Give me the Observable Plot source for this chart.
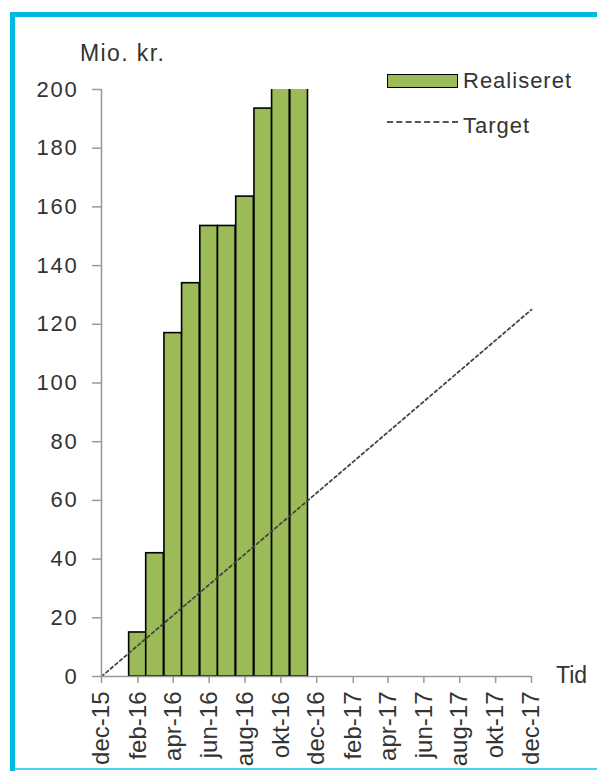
<!DOCTYPE html>
<html>
<head>
<meta charset="utf-8">
<script src="https://cdn.jsdelivr.net/npm/d3@7"></script>
<script src="https://cdn.jsdelivr.net/npm/@observablehq/plot@0.6"></script>
<style>
  html, body { margin: 0; padding: 0; background: #fff; }
  #wrap { position: relative; width: 597px; height: 771px; overflow: hidden; font-family: "Liberation Sans", Arial, sans-serif; color: #333; }
  #chart { position: absolute; left: 0; top: 0; }
  .b { position: absolute; background: #00B9DE; }
  .lbl { position: absolute; white-space: nowrap; line-height: 1; }
</style>
</head>
<body>
<div id="wrap">
  <div id="chart"></div>
  <div class="b" style="left:10px; top:12px; width:5px; height:759px;"></div>
  <div class="b" style="left:10px; top:12px; width:587px; height:5px;"></div>
  <div class="b" style="left:15px; top:768px; width:582px; height:2px; background:#4CD3F0;"></div>
</div>
<script>
// ---- data ----
const barMonths = ["2016-02-01","2016-03-01","2016-04-01","2016-05-01","2016-06-01","2016-07-01","2016-08-01","2016-09-01","2016-10-01","2016-11-01"];
const realiseret = [15, 42, 117, 134, 153.5, 153.5, 163.5, 193.5, 215, 225];
const targetDates = ["2015-12-01","2017-12-01"];
const targetValues = [0, 125];
const xTickDates = ["2015-12-01","2016-02-01","2016-04-01","2016-06-01","2016-08-01","2016-10-01","2016-12-01","2017-02-01","2017-04-01","2017-06-01","2017-08-01","2017-10-01","2017-12-01"];
const monthNames = ["jan","feb","mar","apr","maj","jun","jul","aug","sep","okt","nov","dec"];
const yTicks = [0,20,40,60,80,100,120,140,160,180,200];
const seriesNames = ["Realiseret","Target"];
const yUnit = "Mio. kr.";
const xUnit = "Tid";

const bars = barMonths.map((m, i) => {
  const d = new Date(m);
  return {x1: d3.utcDay.offset(d, -15), x2: d3.utcDay.offset(d, 15), y: realiseret[i]};
});
const target = targetDates.map((t, i) => ({x: new Date(t), y: targetValues[i]}));
const xTicks = xTickDates.map(t => new Date(t));
const fmt = d => monthNames[d.getUTCMonth()] + "-" + String(d.getUTCFullYear()).slice(2);

const font = '"Liberation Sans", Arial, sans-serif';

const chart = Plot.plot({
  width: 597,
  height: 771,
  marginTop: 89,
  marginBottom: 95,
  marginLeft: 101,
  marginRight: 66,
  style: {fontFamily: font, fontSize: "24px", color: "#333", background: "transparent"},
  x: {type: "utc", domain: [new Date(targetDates[0]), new Date(targetDates[1])]},
  y: {domain: [0, 200]},
  marks: [
    Plot.rectY(bars, {x1: "x1", x2: "x2", y: "y", fill: "#9BBB59", stroke: "#000", strokeWidth: 1.6, clip: true}),
    Plot.line(target, {x: "x", y: "y", stroke: "#444", strokeWidth: 1.8, strokeDasharray: "3,3"}),
    Plot.ruleX([new Date(targetDates[0])], {y1: 0, y2: 200, stroke: "#999", strokeWidth: 1.5}),
    Plot.ruleY([0], {stroke: "#999", strokeWidth: 1.5}),
    Plot.axisY({ticks: yTicks, tickSize: 9, tickPadding: 14, stroke: "#999", strokeWidth: 1.5, fill: "#333", fontSize: 22, label: null}),
    Plot.axisX({ticks: xTicks, tickFormat: fmt, tickRotate: -90, tickSize: 7, tickPadding: 8, stroke: "#999", strokeWidth: 1.5, fill: "#333", fontSize: 24, label: null})
  ]
});
chart.querySelectorAll('[aria-label="y-axis tick label"] text').forEach(t => t.setAttribute("letter-spacing", "1.8"));
document.getElementById("chart").appendChild(chart);

// ---- labels & legend ----
const wrap = document.getElementById("wrap");
function addLabel(text, left, top, size, extra) {
  const el = document.createElement("div");
  el.className = "lbl";
  el.textContent = text;
  el.style.left = left + "px";
  el.style.top = top + "px";
  el.style.fontSize = size + "px";
  if (extra) Object.assign(el.style, extra);
  wrap.appendChild(el);
  return el;
}
addLabel(yUnit, 80, 42, 23, {letterSpacing: "1.4px"});
addLabel(xUnit, 556, 664, 23);

// legend swatch
const sw = document.createElement("div");
Object.assign(sw.style, {position: "absolute", left: "387px", top: "74px", width: "69px", height: "12px", background: "#9BBB59", border: "1.5px solid #000"});
wrap.appendChild(sw);
addLabel(seriesNames[0], 463, 70, 22, {letterSpacing: "1px"});
// legend dashed line
const dl = document.createElement("div");
Object.assign(dl.style, {position: "absolute", left: "387px", top: "121px", width: "71px", height: "0", borderTop: "2px dashed #555"});
wrap.appendChild(dl);
addLabel(seriesNames[1], 463, 115, 22, {letterSpacing: "1px"});
</script>
</body>
</html>
